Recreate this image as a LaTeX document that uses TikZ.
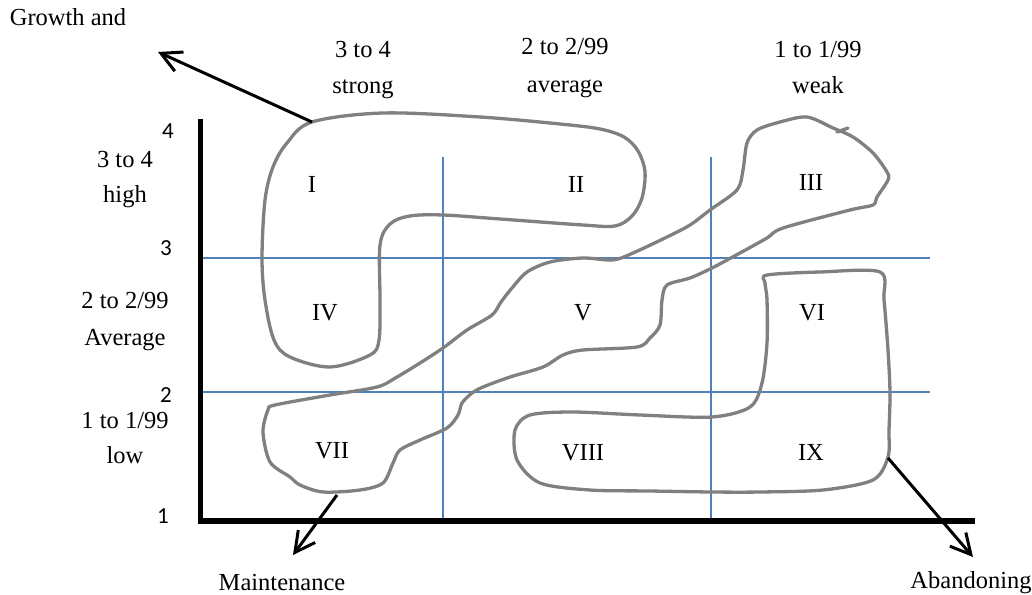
\documentclass[tikz,border=0pt]{standalone}
\usepackage{fontspec}
\setmainfont{Liberation Serif}
\newfontfamily\numfont{Carlito}
\usetikzlibrary{arrows.meta}
\definecolor{blobgray}{HTML}{808080}
\definecolor{gridblue}{HTML}{4F81BD}
\tikzset{
  lbl/.style={inner sep=0pt, anchor=base, font=\fontsize{24.5}{28}\selectfont},
  num/.style={inner sep=0pt, anchor=base, font=\numfont\fontsize{23}{26}\selectfont},
  axisline/.style={line width=5pt, black},
  gridline/.style={line width=1.4pt, gridblue},
  blob/.style={line width=3.3pt, blobgray, line join=round, line cap=round},
  pointer/.style={line width=3pt, black, -{Straight Barb[length=20pt,width=21pt,line width=3pt]}}
}
\begin{document}
\begin{tikzpicture}[x=1pt,y=-1pt]
\useasboundingbox (0,0) rectangle (1032,594);
% grid
\coordinate (h3a) at (200,258); \coordinate (h3b) at (930,258);
\coordinate (h2a) at (200,392); \coordinate (h2b) at (930,392);
\coordinate (v1a) at (443,157); \coordinate (v1b) at (443,521);
\coordinate (v2a) at (711,157); \coordinate (v2b) at (711,521);
\draw[gridline] (h3a) -- (h3b);
\draw[gridline] (h2a) -- (h2b);
\draw[gridline] (v1a) -- (v1b);
\draw[gridline] (v2a) -- (v2b);
% axes
\coordinate (ytop) at (200,119);
\coordinate (orig) at (200,521);
\coordinate (xend) at (975,521);
\draw[axisline] (ytop) -- (200,523.5);
\draw[line width=6pt] (197.5,521) -- (xend);
% blobs
\draw[blob] plot[smooth cycle, tension=0.55] coordinates {
 (312,122) (383,113) (480,117) (560,124) (600,129) (624,137) (638,151) (645,172) (642,198) (632,216) (615,226) (583,225) (500,219) (443,215) (410,216) (390,224) (380,245) (380,300) (379,340) (370,355) (330,367) (290,357) (274,340) (265,300) (262,258) (265,200) (273,167) (287,143)};
\draw[blob] plot[smooth cycle, tension=0.5] coordinates {
 (275,405) (330,395) (377,387) (397,377) (420,363) (443,348) (467,330) (492,315) (501,302) (512,288) (527,272) (550,262) (583,258) (613,260) (633,253) (667,237) (690,225) (710,210) (737,190) (743,170) (747,143) (757,130) (780,122) (807,117) (833,128) (853,137) (873,153) (887,172) (888,180) (877,197) (873,205) (850,210) (783,228) (767,238) (740,253) (712,268) (690,278) (667,285) (662,300) (660,325) (650,338) (637,347) (583,350) (563,355) (543,367) (510,377) (483,387) (472,393) (462,403) (458,415) (447,428) (420,440) (400,450) (393,463) (383,483) (360,490) (323,492) (300,485) (290,477) (270,462) (263,432) (268,410)};
\draw[blob] (837,132) -- (848,128);
\draw[blob] plot[smooth cycle, tension=0.5] coordinates {
 (767,275) (820,272) (880,272) (884,300) (888,350) (890,393) (889,430) (888,457) (873,480) (823,490) (760,492) (712,492) (650,491) (590,490) (540,483) (517,460) (515,430) (530,415) (573,412) (640,415) (712,417) (750,407) (762,383) (767,343) (767,300) (765,283)};
% pointers
\coordinate (g1) at (312,122); \coordinate (g2) at (158,52);
\coordinate (m1) at (337,495); \coordinate (m2) at (293,555);
\coordinate (a1) at (888,458); \coordinate (a2) at (973,557);
\draw[pointer] (g1) -- (g2);
\draw[pointer] (m1) -- (m2);
\draw[pointer] (a1) -- (a2);
% labels
\node[lbl] (growth) at (68,26) {Growth and};
\node[lbl] (maint) at (282,590) {Maintenance};
\node[lbl] (aband) at (971,588) {Abandoning};
\node[lbl] (t1a) at (363,57) {3 to 4};
\node[lbl] (t1b) at (363,93) {strong};
\node[lbl] (t2a) at (565,55) {2 to 2/99};
\node[lbl] (t2b) at (565,92) {average};
\node[lbl] (t3a) at (818,57) {1 to 1/99};
\node[lbl] (t3b) at (818,93) {weak};
\node[lbl] (l1a) at (125,167) {3 to 4};
\node[lbl] (l1b) at (125,202) {high};
\node[lbl] (l2a) at (125,308) {2 to 2/99};
\node[lbl] (l2b) at (125,345) {Average};
\node[lbl] (l3a) at (125,428) {1 to 1/99};
\node[lbl] (l3b) at (125,463) {low};
\node[num] (n4) at (168,138) {4};
\node[num] (n3) at (166,255) {3};
\node[num] (n2) at (166,402) {2};
\node[num] (n1) at (163,523) {1};
\node[lbl] (r1) at (312,192) {I};
\node[lbl] (r2) at (576,192) {II};
\node[lbl] (r3) at (811,190) {III};
\node[lbl] (r4) at (325,320) {IV};
\node[lbl] (r5) at (583,320) {V};
\node[lbl] (r6) at (812,320) {VI};
\node[lbl] (r7) at (332,458) {VII};
\node[lbl] (r8) at (583,460) {VIII};
\node[lbl] (r9) at (811,460) {IX};
\end{tikzpicture}
\end{document}
